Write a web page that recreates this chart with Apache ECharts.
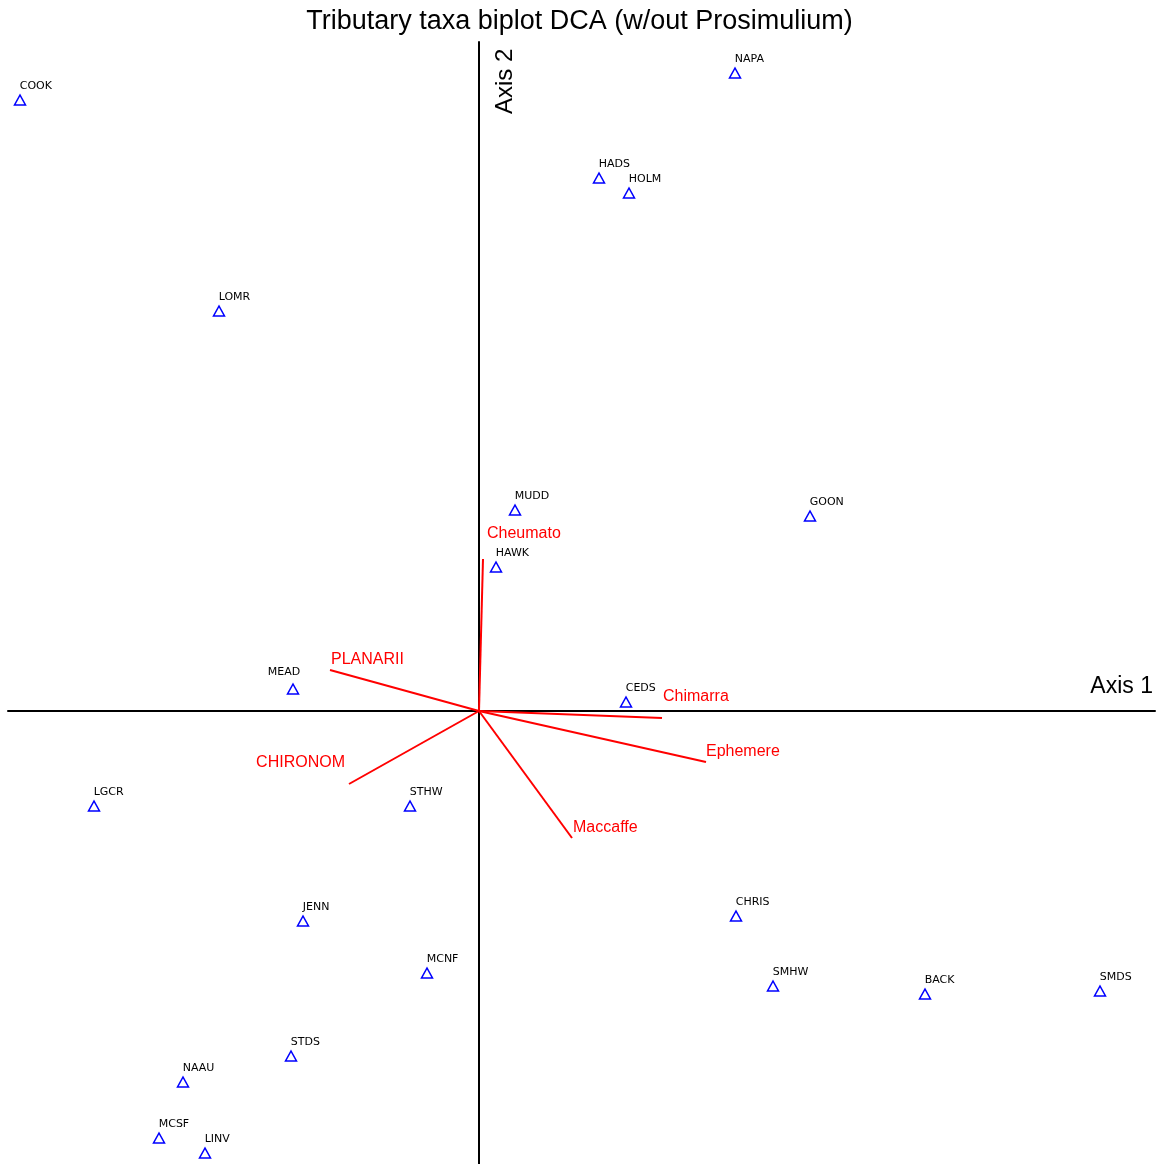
<!DOCTYPE html>
<html>
<head>
<meta charset="utf-8">
<script src="https://cdn.jsdelivr.net/npm/echarts@6/dist/echarts.min.js"></script>
<style>
  html, body { margin: 0; padding: 0; background: #fff; }
  #chart { width: 1159px; height: 1164px; }
</style>
</head>
<body>
<div id="chart"></div>
<script>
// site scores (Axis 1, Axis 2)
var siteNames = ['COOK', 'NAPA', 'HADS', 'HOLM', 'LOMR', 'MUDD', 'GOON', 'HAWK', 'MEAD', 'CEDS', 'LGCR',
                 'STHW', 'JENN', 'MCNF', 'CHRIS', 'SMHW', 'BACK', 'SMDS', 'STDS', 'NAAU', 'MCSF', 'LINV'];
var siteX = [-4.59, 2.56, 1.20, 1.50, -2.60, 0.36, 3.31, 0.17, -1.86, 1.47, -3.85,
             -0.69, -1.76, -0.52, 2.57, 2.94, 4.46, 6.21, -1.88, -2.96, -3.20, -2.74];
var siteY = [6.11, 6.38, 5.33, 5.18, 4.00, 2.01, 1.95, 1.44, 0.22, 0.09, -0.95,
             -0.95, -2.10, -2.62, -2.05, -2.75, -2.83, -2.80, -3.45, -3.71, -4.27, -4.42];

// taxa vectors
var taxaNames = ['Cheumato', 'PLANARII', 'Chimarra', 'Ephemere', 'Maccaffe', 'CHIRONOM'];
var taxaX = [0.04, -1.49, 1.83, 2.27, 0.93, -1.30];
var taxaY = [1.52, 0.41, -0.07, -0.51, -1.27, -0.73];

var siteData = [];
for (var i = 0; i < siteNames.length; i++) {
    var item = { name: siteNames[i], value: [siteX[i], siteY[i]] };
    if (siteNames[i] == 'MEAD') {
        item.label = { position: [-19, -11] };
    }
    siteData.push(item);
}

var vecLines = [];
var vecEnds = [];
// label offsets from the arrow tip
var labelPos = {
    'Cheumato': [4, -25], 'PLANARII': [1, -10], 'Chimarra': [1, -21],
    'Ephemere': [0, -10], 'Maccaffe': [1, -10], 'CHIRONOM': [-4, -21]
};
for (var j = 0; j < taxaNames.length; j++) {
    vecLines.push({ coords: [[0, 0], [taxaX[j], taxaY[j]]] });
    vecEnds.push({
        name: taxaNames[j],
        value: [taxaX[j], taxaY[j]],
        label: {
            position: labelPos[taxaNames[j]],
            align: taxaNames[j] == 'CHIRONOM' ? 'right' : 'left'
        }
    });
}

var font = 'Liberation Sans, Arial, sans-serif';
var myChart = echarts.init(document.getElementById('chart'));

var option = {
    animation: false,
    backgroundColor: '#fff',
    textStyle: { fontFamily: font },
    title: {
        text: 'Tributary taxa biplot DCA (w/out Prosimulium)',
        left: 'center',
        top: 3,
        textStyle: { fontSize: 27, fontWeight: 'normal', color: '#000', fontFamily: font }
    },
    grid: { left: 8, right: 4, top: 42, bottom: 0 },
    xAxis: {
        type: 'value',
        min: -4.71,
        max: 6.76,
        axisLine: { onZero: true, lineStyle: { color: '#000', width: 2 } },
        axisTick: { show: false },
        axisLabel: { show: false },
        splitLine: { show: false }
    },
    yAxis: {
        type: 'value',
        min: -4.53,
        max: 6.69,
        axisLine: { onZero: true, lineStyle: { color: '#000', width: 2 } },
        axisTick: { show: false },
        axisLabel: { show: false },
        splitLine: { show: false }
    },
    graphic: [
        {
            type: 'text',
            right: 6,
            top: 675,
            style: { text: 'Axis 1', fontSize: 23, fill: '#000', fontFamily: font }
        },
        {
            type: 'text',
            x: 493,
            y: 114,
            rotation: Math.PI / 2,
            style: { text: 'Axis 2', fontSize: 24, fill: '#000', fontFamily: font }
        }
    ],
    series: [
        {
            type: 'lines',
            coordinateSystem: 'cartesian2d',
            silent: true,
            lineStyle: { color: '#ff0000', width: 2, opacity: 1 },
            data: vecLines
        },
        {
            type: 'scatter',
            symbolSize: 0,
            silent: true,
            itemStyle: { opacity: 1 },
            label: {
                show: true,
                formatter: '{b}',
                color: '#ff0000',
                fontSize: 16,
                verticalAlign: 'middle'
            },
            data: vecEnds
        },
        {
            type: 'scatter',
            symbol: 'triangle',
            symbolSize: [11, 10],
            itemStyle: { color: 'rgba(0,0,0,0)', borderColor: '#0000ff', borderWidth: 1.5, opacity: 1 },
            label: {
                show: true,
                formatter: '{b}',
                position: [6, -8],
                align: 'left',
                verticalAlign: 'middle',
                color: '#000',
                fontSize: 11,
                fontFamily: 'DejaVu Sans, sans-serif'
            },
            data: siteData
        }
    ]
};

myChart.setOption(option);
</script>
</body>
</html>
